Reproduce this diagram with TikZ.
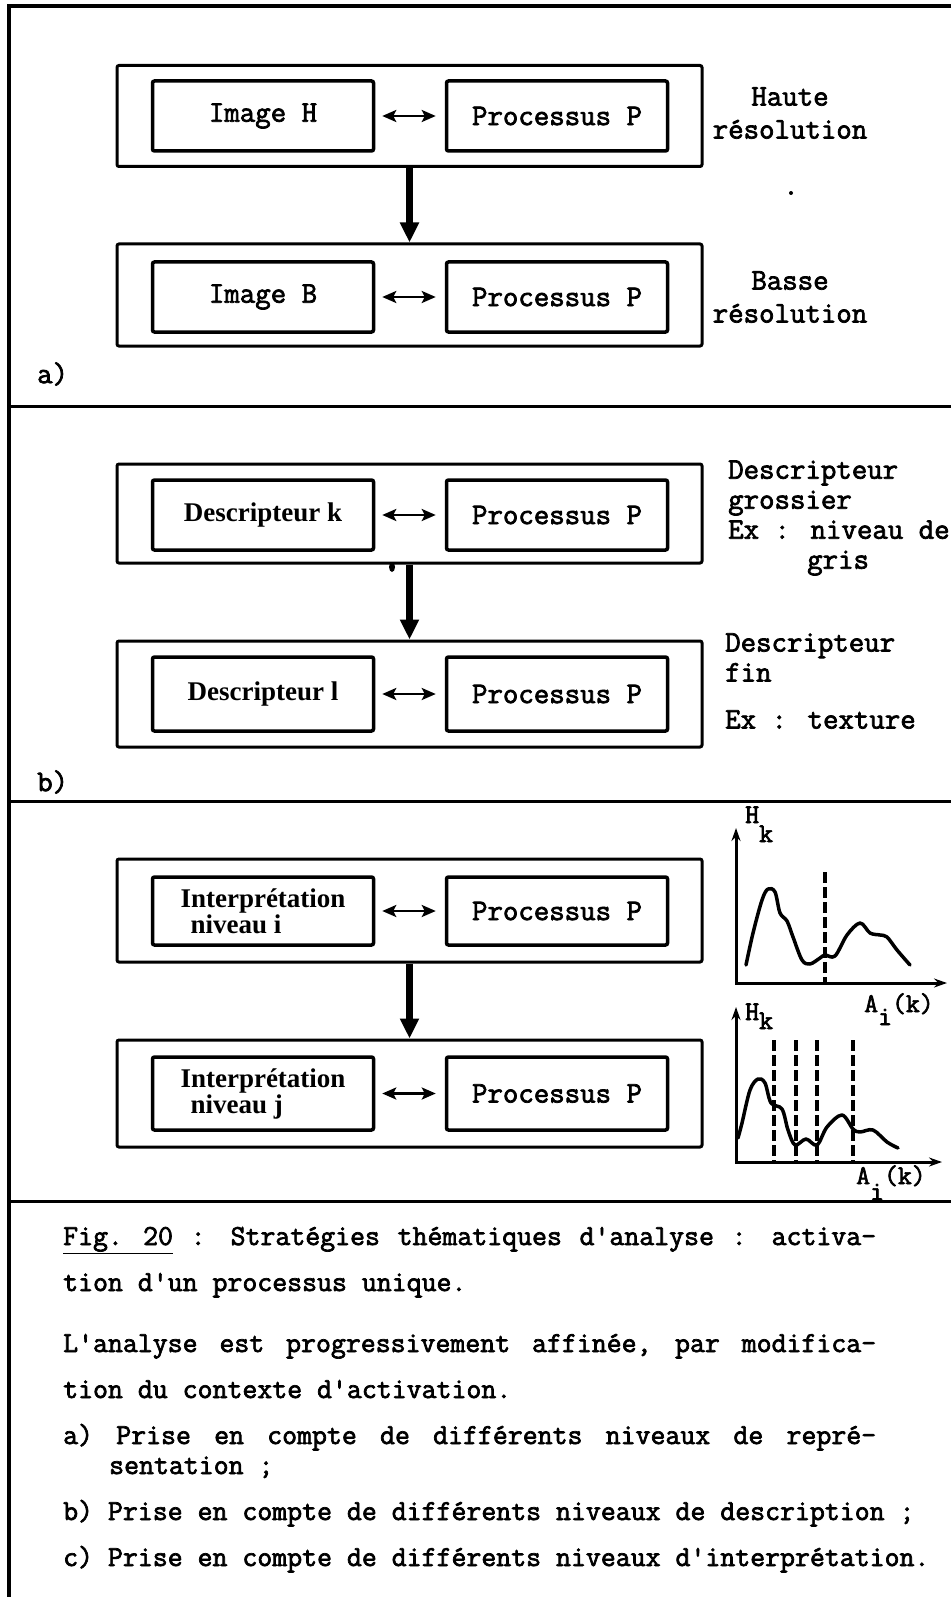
\documentclass[tikz,border=0pt]{standalone}
\usepackage{fontspec}
\setmainfont{Liberation Serif}
\newfontfamily\typefont{Latin Modern Mono}[FakeBold=2.4]
\usetikzlibrary{arrows.meta}

\newcommand{\boxfont}{\typefont\fontsize{30}{33}\selectfont}
\newcommand{\capfont}{\typefont\fontsize{29}{33}\selectfont}
\newcommand{\descfont}{\bfseries\fontsize{27}{26}\selectfont}
\newcommand{\axisfont}{\typefont\fontsize{27}{30}\selectfont}
\newcommand{\fullline}[1]{{\spaceskip=15.23pt plus 30pt\makebox[813pt][s]{#1}}}

\begin{document}
\begin{tikzpicture}[x=1pt,y=-1pt,
  outerbox/.style={draw,line width=3pt,rounded corners=2pt,minimum width=585pt,minimum height=101pt,inner sep=0pt},
  innerbox/.style={draw,line width=3.5pt,rounded corners=2pt,minimum width=221pt,minimum height=70pt,inner sep=0pt,font=\boxfont},
  descbox/.style={innerbox,font=\descfont,align=left},
  biarrow/.style={{Stealth[length=14pt,width=12pt,inset=3pt]}-{Stealth[length=14pt,width=12pt,inset=3pt]},line width=2.5pt,shorten <=7pt,shorten >=9pt},
  downarrow/.style={-{Triangle[length=20pt,width=18pt]},line width=7pt},
  sidetext/.style={font=\boxfont,inner sep=0pt},
  framerule/.style={line width=3pt},
  axis/.style={{Stealth[length=13pt,width=9pt]}-{Stealth[length=13pt,width=9pt]},line width=3pt},
  curve/.style={line width=3.5pt,line join=round,line cap=round},
  cutline/.style={line width=4pt,dash pattern=on 11pt off 4pt},
  axlabel/.style={font=\axisfont,inner sep=0pt,anchor=base west},
  capline/.style={font=\capfont,inner sep=0pt,anchor=base west}]

\useasboundingbox (0,0) rectangle (951,1597);

% ============================================================
% FRAME
% ============================================================

\coordinate (TL) at (9,6);
\coordinate (TR) at (951,6);
\coordinate (BL) at (9,1597);
\draw[line width=4pt] (TR) -- (TL) -- (BL);
\foreach \sy in {406,801,1201}{
  \draw[framerule] (9,\sy) -- (951,\sy);
}

% ============================================================
% a) LEVELS OF REPRESENTATION
% ============================================================

\node[outerbox] (A1) at (409.5,116) {};
\node[innerbox] (imgH) at (263,116) {Image H};
\node[innerbox] (procA1) at (557,116) {Processus P};

\node[outerbox,minimum height=102pt] (A2) at (409.5,295) {};
\node[innerbox] (imgB) at (263,297) {Image B};
\node[innerbox] (procA2) at (557,297) {Processus P};

\draw[biarrow] (imgH) -- (procA1);
\draw[biarrow] (imgB) -- (procA2);
\draw[downarrow] (A1) -- (A2);

\node[sidetext,align=center] (haute) at (790,113) {Haute\\résolution};
\node[sidetext,align=center] (basse) at (790,297) {Basse\\résolution};
\fill (791,193) circle (2pt);

\node[sidetext,anchor=west] (labA) at (37,374) {a)};

% ============================================================
% b) LEVELS OF DESCRIPTION
% ============================================================

\node[outerbox,minimum height=99pt] (B1) at (409.5,513.5) {};
\node[descbox] (descK) at (263,515) {Descripteur k};
\node[innerbox] (procB1) at (557,515) {Processus P};

\node[outerbox,minimum height=106pt] (B2) at (409.5,694) {};
\node[descbox,minimum height=74pt] (descL) at (263,694) {Descripteur l};
\node[innerbox,minimum height=74pt] (procB2) at (557,694) {Processus P};

\draw[biarrow] (descK) -- (procB1);
\draw[biarrow] (descL) -- (procB2);
\draw[downarrow] (B1) -- (B2);
\fill (392,567) ellipse (3pt and 5pt);

\node[sidetext,anchor=west,align=left] (grossier) at (728,518)
  {Descripteur\\[-3pt]grossier\\[-3pt]Ex : niveau de\\[-3pt]\hspace*{79pt}gris};
\node[sidetext,anchor=west,align=left] (fin) at (725,681)
  {Descripteur\\[-3pt]fin\\[14pt]Ex : texture};

\node[sidetext,anchor=west] (labB) at (37,782) {b)};

% ============================================================
% c) LEVELS OF INTERPRETATION
% ============================================================

\node[outerbox,minimum height=103pt] (C1) at (409.5,910.5) {};
\node[descbox,minimum height=68pt] (interI) at (263,911)
  {Interprétation\\\hspace*{10pt}niveau i};
\node[innerbox,minimum height=68pt] (procC1) at (557,911) {Processus P};

\node[outerbox,minimum height=107pt] (C2) at (409.5,1093.5) {};
\node[descbox,minimum height=73pt] (interJ) at (263,1093.5)
  {Interprétation\\\hspace*{10pt}niveau j};
\node[innerbox,minimum height=73pt] (procC2) at (557,1093.5) {Processus P};

\draw[biarrow] (interI) -- (procC1);
\draw[biarrow] (interJ) -- (procC2);
\draw[downarrow] (C1) -- (C2);

% histogram, coarse
\coordinate (g1o) at (736,983);
\coordinate (g1y) at (736,828);
\coordinate (g1x) at (947,983);
\draw[axis] (g1y) -- (g1o) -- (g1x);
\draw[curve] plot[smooth,tension=0.55] coordinates {
  (746,965) (753,933) (762,900) (768,889) (775,892) (780,913) (787,921)
  (793,937) (802,960) (810,964) (820,958) (825,955) (835,956) (847,935)
  (860,923) (870,933) (880,935) (887,937) (897,950) (910,965)};
\draw[cutline] (825,872) -- (825,983);
\node[axlabel] (hk1) at (745,823) {H\raisebox{-19pt}{k}};
\node[axlabel] (ak1) at (864,1012) {A\raisebox{-13pt}{i}(k)};

% histogram, fine
\coordinate (g2o) at (736,1162);
\coordinate (g2y) at (736,1007);
\coordinate (g2x) at (942,1162);
\draw[axis] (g2y) -- (g2o) -- (g2x);
\draw[curve] plot[smooth,tension=0.55] coordinates {
  (738,1138) (742,1123) (750,1090) (758,1079) (765,1083) (771,1103)
  (782,1109) (788,1130) (795,1145) (806,1139) (817,1145) (827,1127)
  (842,1115) (853,1129) (860,1132) (873,1130) (887,1142) (898,1148)};
\foreach \cx in {774,796,817,853}{
  \draw[cutline] (\cx,1040) -- (\cx,1162);
}
\node[axlabel] (hk2) at (745,1020) {H\raisebox{-9pt}{k}};
\node[axlabel] (ak2) at (856,1184) {A\raisebox{-16pt}{i}(k)};

% ============================================================
% CAPTION
% ============================================================

\node[capline] (cap1) at (63,1245)
  {\fullline{\underline{Fig. 20} : Stratégies thématiques d'analyse : activa-}};
\node[capline] (cap2) at (63,1291) {tion d'un processus unique.};
\node[capline] (cap3) at (63,1352)
  {\fullline{L'analyse est progressivement affinée, par modifica-}};
\node[capline] (cap4) at (63,1398) {tion du contexte d'activation.};
\node[capline] (cap5) at (63,1444)
  {\fullline{a) Prise en compte de différents niveaux de repré-}};
\node[capline] (cap6) at (109,1474) {sentation ;};
\node[capline] (cap7) at (63,1520) {b) Prise en compte de différents niveaux de description ;};
\node[capline] (cap8) at (63,1566) {c) Prise en compte de différents niveaux d'interprétation.};

\end{tikzpicture}
\end{document}
